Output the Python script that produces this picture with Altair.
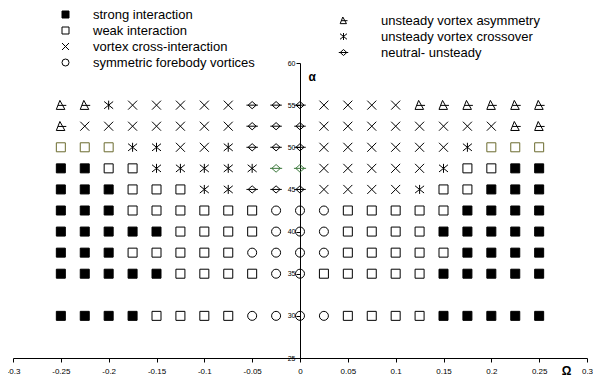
import altair as alt
import pandas as pd

# Grid of measurement points (Omega, alpha)
OMEGA = [-0.25, -0.225, -0.2, -0.175, -0.15, -0.125, -0.1, -0.075, -0.05, -0.025, 0,
         0.025, 0.05, 0.075, 0.1, 0.125, 0.15, 0.175, 0.2, 0.225, 0.25]
ALPHA = [55, 52.5, 50, 47.5, 45, 42.5, 40, 37.5, 35, 30]

# Flow regime codes per row (left -> right); lowercase = tinted marker in original
ROWS = [
    "TTKXXXXXDD" + "D" + "XXXXTTTTTT",
    "TXXXXXXXDD" + "D" + "XXXXXXXXTT",
    "wwwKKXXKDD" + "D" + "XXXXXXKwww",
    "SSWWKKKKKd" + "d" + "XXXXXKWWSS",
    "SSSWWWKKDD" + "D" + "XXXXKWWSSS",
    "SSSWWWWWWO" + "O" + "OWWWWWSSSS",
    "SSSSSWWWWO" + "O" + "OWWWWSSSSS",
    "SSSWWWWWOO" + "O" + "OWWWWWSSSS",
    "SSSSSWWWWO" + "O" + "WWWWWSSSSS",
    "SSSSWWWWOO" + "O" + "OWWWWSSSSS",
]

NAMES = {
    "S": "strong interaction",
    "W": "weak interaction",
    "X": "vortex cross-interaction",
    "O": "symmetric forebody vortices",
    "T": "unsteady vortex asymmetry",
    "K": "unsteady vortex crossover",
    "D": "neutral- unsteady",
}
GROUP_A = ["S", "W", "X", "O"]
GROUP_B = ["T", "K", "D"]
ALL = GROUP_A + GROUP_B

# styles (kept separate from data)
SHAPES = {
    "S": "square",
    "W": "square",
    "X": "M-1,-1L1,1M-1,1L1,-1",
    "O": "circle",
    "T": "M-0.2,-1L0.85,0.9L-0.95,0.9Z M-0.6,0.05L1.15,0.05",
    "K": "M-1,-0.8L1,0.8M-1,0.8L1,-0.8M0,-1L0,1",
    "D": "M0,-0.85L0.95,0L0,0.85L-0.95,0Z M-1.35,0L1.35,0",
}
FILLS = {"S": "black"}
SIZES = {"S": 81, "W": 81, "X": 64, "O": 121, "T": 90, "K": 72, "D": 100}
TINTS = {"w": "#6b6b2e", "d": "#3f7a3f"}

recs = []
for a, row in zip(ALPHA, ROWS):
    for o, c in zip(OMEGA, row):
        recs.append({"omega": o, "alpha": a, "code": c.upper(),
                     "regime": NAMES[c.upper()], "tinted": c in TINTS,
                     "edge": TINTS.get(c, "black")})
df = pd.DataFrame(recs)

W, H = 574, 295

x_enc = alt.X("omega:Q", scale=alt.Scale(domain=[-0.3, 0.3], nice=False, zero=False),
              axis=alt.Axis(values=[-0.3, -0.25, -0.2, -0.15, -0.1, -0.05, 0, 0.05, 0.1, 0.15, 0.2, 0.25, 0.3],
                            labelExpr="'' + datum.value", tickSize=4, labelPadding=5,
                            labelFontSize=8, grid=False, labelFlush=False, labelOverlap=False,
                            title="Ω", titleFontSize=12, titleFontWeight="bold",
                            titleX=553, titleY=12, titleAlign="center", titleBaseline="middle"))
y_enc = alt.Y("alpha:Q", scale=alt.Scale(domain=[25, 60], nice=False, zero=False),
              axis=alt.Axis(values=[25, 30, 35, 40, 45, 50, 55, 60], offset=-W / 2,
                            tickSize=4, labelPadding=1, labelFontSize=7, grid=False,
                            labelFlush=False, labelOverlap=False,
                            title="α", titleAngle=0, titleX=8, titleY=13, titleAlign="left",
                            titleBaseline="middle", titleFontSize=12, titleFontWeight="bold"))


def layer(group, lx, ly, row_pad, lab_off):
    names = [NAMES[g] for g in group]
    leg = alt.Legend(title=None, orient="none", legendX=lx, legendY=ly, padding=0,
                     rowPadding=row_pad, labelOffset=lab_off, labelFontSize=13,
                     symbolSize=49, symbolStrokeWidth=1, labelLimit=300)
    return alt.Chart(df).transform_filter(
        alt.FieldOneOfPredicate(field="code", oneOf=group)
    ).transform_filter("!datum.tinted").mark_point(
        filled=False, stroke="black", opacity=1, strokeWidth=1
    ).encode(
        x=x_enc, y=y_enc,
        shape=alt.Shape("regime:N", scale=alt.Scale(domain=names, range=[SHAPES[g] for g in group]),
                        legend=leg),
        fill=alt.Fill("regime:N", scale=alt.Scale(domain=names, range=[FILLS.get(g, "transparent") for g in group]),
                      legend=leg),
        size=alt.Size("code:N", scale=alt.Scale(domain=group, range=[SIZES[g] for g in group]), legend=None),
    )


tinted = alt.Chart(df).transform_filter("datum.tinted").mark_point(
    filled=False, opacity=1, strokeWidth=1
).encode(
    x=x_enc, y=y_enc,
    shape=alt.Shape("code:N", scale=alt.Scale(domain=ALL, range=[SHAPES[g] for g in ALL]), legend=None),
    size=alt.Size("code:N", scale=alt.Scale(domain=ALL, range=[SIZES[g] for g in ALL]), legend=None),
    stroke=alt.Stroke("edge:N", scale=None),
)

chart = alt.layer(
    layer(GROUP_A, 46, -55, 2, 21),
    layer(GROUP_B, 324, -49, 2, 31),
    tinted,
).resolve_scale(
    shape="independent", fill="independent", size="independent"
).resolve_legend(
    shape="independent", fill="independent"
).properties(
    width=W, height=H, autosize=alt.AutoSizeParams(type="none"),
    padding={"left": 5, "top": 55, "right": 6, "bottom": 22},
).configure_view(stroke=None).configure_axis(
    labelFont="Liberation Sans", titleFont="Liberation Sans", labelColor="black",
    titleColor="black", domainColor="black", tickColor="black",
).configure_legend(labelFont="Liberation Sans", labelColor="black")

chart.save("out.html", embed_options={"renderer": "svg", "actions": False})
